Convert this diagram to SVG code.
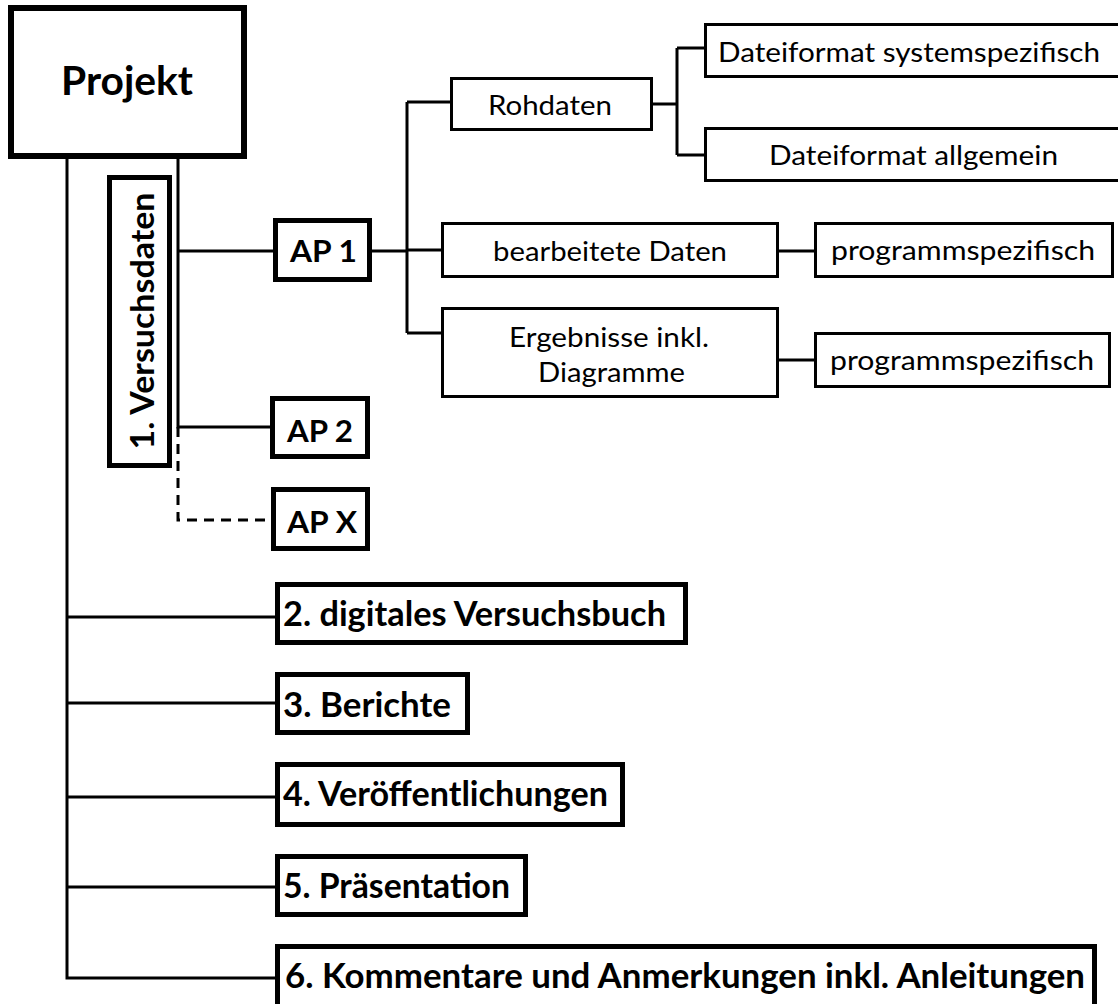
<svg xmlns="http://www.w3.org/2000/svg" width="1118" height="1004" viewBox="0 0 1118 1004">
<style>
.bold{fill:#fff;stroke:#000;stroke-width:5}
.thin{fill:#fff;stroke:#000;stroke-width:3}
.tb{font-family:Lato,"Open Sans",sans-serif;font-weight:bold;fill:#000}
.tr{font-family:Lato,"Open Sans",sans-serif;font-size:27px;fill:#000}
.c{fill:none;stroke:#000;stroke-width:3}
</style>
<rect width="1118" height="1004" fill="#fff"/>
<g id="connectors">
<path class="c" d="M67,158 V978 H275 M67,617 H275 M67,703 H275 M67,797 H275 M67,887 H275"/>
<path class="c" d="M178,158 V427 H270 M178,251 H273"/>
<path class="c" d="M178,427 V520 H271" stroke-dasharray="10,7"/>
<path class="c" d="M372,251 H407 M407,102 V333 M407,102 H450 M407,250 H441 M407,333 H441"/>
<path class="c" d="M653,104 H677 M677,48 V155 M677,48 H704 M677,155 H704"/>
<path class="c" d="M779,251 H814 M779,360 H814"/>
</g>
<g id="projekt"><rect x="11" y="8" width="233" height="148" fill="#fff" stroke="#000" stroke-width="6"/><text class="tb" x="61" y="95" font-size="41" textLength="132" lengthAdjust="spacingAndGlyphs">Projekt</text></g>
<g id="versuchsdaten"><rect class="bold" x="109.5" y="177.5" width="60" height="288"/><text class="tb" font-size="33" text-anchor="middle" transform="translate(154,321) rotate(-90)" textLength="257" lengthAdjust="spacingAndGlyphs">1. Versuchsdaten</text></g>
<g id="ap1"><rect class="bold" x="275.5" y="220.5" width="94" height="59"/><text class="tb" x="290" y="262" font-size="31" textLength="67" lengthAdjust="spacingAndGlyphs">AP 1</text></g>
<g id="ap2"><rect class="bold" x="272.5" y="398.5" width="95" height="58"/><text class="tb" x="287" y="442" font-size="31" textLength="66" lengthAdjust="spacingAndGlyphs">AP 2</text></g>
<g id="apx"><rect class="bold" x="273.5" y="489.5" width="94" height="59"/><text class="tb" x="287" y="533" font-size="31" textLength="70" lengthAdjust="spacingAndGlyphs">AP X</text></g>
<g id="n2"><rect class="bold" x="277.5" y="584.5" width="408" height="58"/><text class="tb" x="283" y="626" font-size="34" textLength="383" lengthAdjust="spacingAndGlyphs">2. digitales Versuchsbuch</text></g>
<g id="n3"><rect class="bold" x="277.5" y="674.5" width="190" height="58"/><text class="tb" x="283" y="717" font-size="34" textLength="168" lengthAdjust="spacingAndGlyphs">3. Berichte</text></g>
<g id="n4"><rect class="bold" x="277.5" y="764.5" width="345" height="60"/><text class="tb" x="283" y="806" font-size="34" textLength="325" lengthAdjust="spacingAndGlyphs">4. Veröffentlichungen</text></g>
<g id="n5"><rect class="bold" x="277.5" y="856.5" width="248" height="58"/><text class="tb" x="283" y="898" font-size="34" textLength="227" lengthAdjust="spacingAndGlyphs">5. Präsentation</text></g>
<g id="n6"><rect class="bold" x="277.5" y="946.5" width="817" height="70"/><text class="tb" x="285" y="988" font-size="34" textLength="800" lengthAdjust="spacingAndGlyphs">6. Kommentare und Anmerkungen inkl. Anleitungen</text></g>
<g id="rohdaten"><rect class="thin" x="451.5" y="78.5" width="200" height="51"/><text class="tr" x="488" y="115" textLength="124" lengthAdjust="spacingAndGlyphs">Rohdaten</text></g>
<g id="dsys"><rect class="thin" x="705.5" y="24.5" width="420" height="52"/><text class="tr" x="718" y="62" textLength="382" lengthAdjust="spacingAndGlyphs">Dateiformat systemspezifisch</text></g>
<g id="dall"><rect class="thin" x="705.5" y="128.5" width="420" height="52"/><text class="tr" x="769" y="165" textLength="289" lengthAdjust="spacingAndGlyphs">Dateiformat allgemein</text></g>
<g id="bearbeitet"><rect class="thin" x="442.5" y="223.5" width="335" height="53"/><text class="tr" x="493" y="261" textLength="234" lengthAdjust="spacingAndGlyphs">bearbeitete Daten</text></g>
<g id="prog1"><rect class="thin" x="815.5" y="223.5" width="297" height="53"/><text class="tr" x="831" y="260" textLength="264" lengthAdjust="spacingAndGlyphs">programmspezifisch</text></g>
<g id="ergebnisse"><rect class="thin" x="442.5" y="308.5" width="335" height="88"/><text class="tr" x="509" y="347" textLength="200" lengthAdjust="spacingAndGlyphs">Ergebnisse inkl.</text><text class="tr" x="538" y="382" textLength="147" lengthAdjust="spacingAndGlyphs">Diagramme</text></g>
<g id="prog2"><rect class="thin" x="815.5" y="333.5" width="294" height="53"/><text class="tr" x="830" y="370" textLength="264" lengthAdjust="spacingAndGlyphs">programmspezifisch</text></g>
</svg>
